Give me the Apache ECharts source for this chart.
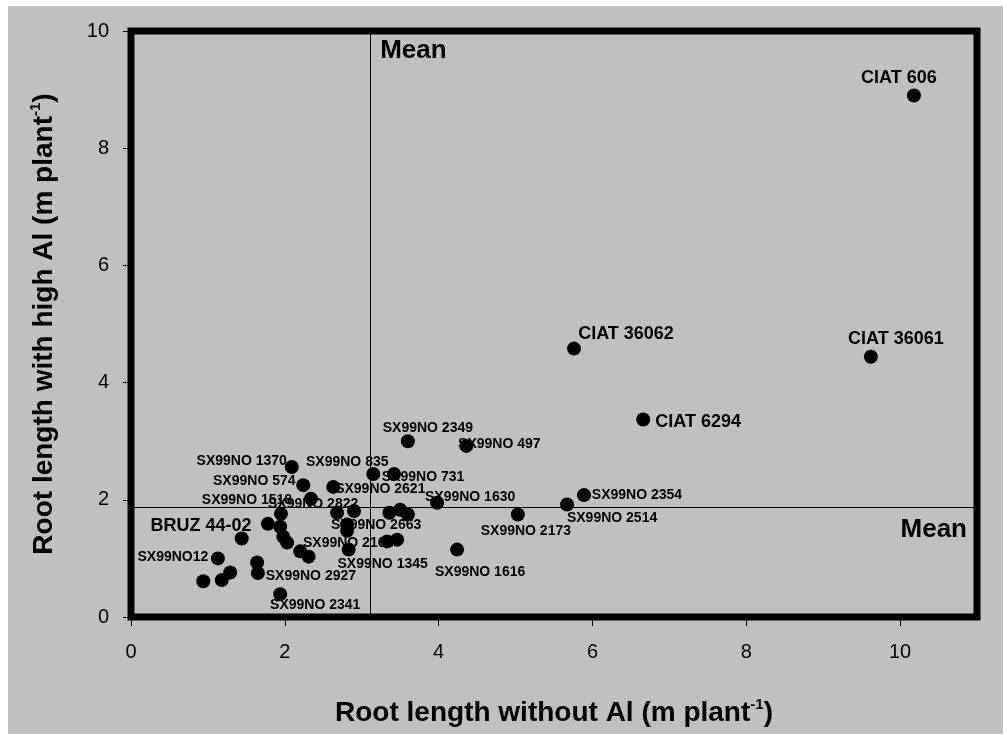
<!DOCTYPE html>
<html><head><meta charset="utf-8">
<script src="https://cdn.jsdelivr.net/npm/echarts@6/dist/echarts.min.js"></script>
<style>html,body{margin:0;padding:0;background:#fff}#c{width:1003px;height:734px}</style>
</head><body><div id="c"></div>
<script>
// ---- data ----
const genotypes = [
  'CIAT 606','CIAT 36062','CIAT 36061','CIAT 6294','SX99NO 2349','SX99NO 497','SX99NO 2354','SX99NO 2514',
  'SX99NO 2173','SX99NO 1630','SX99NO 1616','SX99NO 731','SX99NO 835','SX99NO 2621','SX99NO 1370','SX99NO 574',
  'SX99NO 1518','SX99NO 2822','','SX99NO 2663','','','','',
  'SX99NO 2162','','SX99NO 1345','','','SX99NO 2341','','BRUZ 44-02',
  '','','','SX99NO12','','','','',
  'SX99NO 2927',''
];
const rootWithoutAl = [
  10.18,5.76,9.62,6.66,3.60,4.36,5.89,5.67,
  5.03,3.98,4.24,3.42,3.15,2.63,2.09,2.24,
  2.34,2.68,2.90,2.81,2.81,3.36,3.50,3.60,
  3.33,3.46,2.83,2.20,2.31,1.94,1.95,1.78,
  1.94,1.98,1.44,1.13,1.29,1.18,0.94,1.64,
  1.65,2.03
];
const rootHighAl = [
  8.90,4.58,4.44,3.37,3.00,2.92,2.08,1.92,
  1.75,1.95,1.15,2.44,2.44,2.22,2.56,2.25,
  2.02,1.78,1.81,1.58,1.47,1.78,1.83,1.75,
  1.29,1.32,1.15,1.12,1.03,0.39,1.76,1.59,
  1.54,1.37,1.34,1.00,0.76,0.63,0.61,0.93,
  0.75,1.27
];
const meanWithoutAl = 3.11;
const meanHighAl = 1.88;
const xTickValues = [0,2,4,6,8,10];
const yTickValues = [0,2,4,6,8,10];
const xTitle = 'Root length without Al (m plant{sup|-1})';
const yTitle = 'Root length with high Al (m plant{sup|-1})';
const meanText = 'Mean';

// ---- label layout (pixel offsets of label centre from point) ----
const labelLayout = {
  'CIAT 606':[-15,-17,18], 'CIAT 36062':[52,-15,18], 'CIAT 36061':[25,-18,18], 'CIAT 6294':[55,3,18],
  'SX99NO 2349':[20,-13], 'SX99NO 497':[33,-2], 'SX99NO 2354':[53,0], 'SX99NO 2514':[45,14],
  'SX99NO 2173':[8,17], 'SX99NO 1630':[33,-6], 'SX99NO 1616':[23,23], 'SX99NO 731':[29,3],
  'SX99NO 835':[-26,-12], 'SX99NO 2621':[47,2], 'SX99NO 1370':[-50,-6], 'SX99NO 574':[-49,-4],
  'SX99NO 1518':[-64,2], 'SX99NO 2822':[-24,-9], 'SX99NO 2663':[29,1], 'SX99NO 2162':[-39,2],
  'SX99NO 1345':[34,15], 'SX99NO 2341':[35,11], 'BRUZ 44-02':[-67,2,18], 'SX99NO12':[-45,-1],
  'SX99NO 2927':[53,3]
};

const FONT = "'Liberation Sans', Arial, sans-serif";
const chart = echarts.init(document.getElementById('c'), null, {renderer:'canvas'});

const points = rootWithoutAl.map((x,i)=>[x, rootHighAl[i]]);
const labelData = [];
genotypes.forEach((n,i)=>{
  if(!n) return;
  const L = labelLayout[n];
  labelData.push({value:[rootWithoutAl[i], rootHighAl[i]], name:n,
    label:{offset:[L[0],L[1]], fontSize:L[2]||14}});
});

const nameStyle = (size)=>({fontSize:size, fontWeight:'bold', fontFamily:FONT, color:'#000', lineHeight:size+4,
  rich:{sup:{fontSize:15, fontWeight:'bold', fontFamily:FONT, color:'#000', verticalAlign:'top', lineHeight:15}}});

const axisCommon = {
  type:'value',
  axisLine:{show:false},
  splitLine:{show:false},
  axisLabel:{fontSize:20, color:'#000', fontFamily:FONT},
};

chart.setOption({
  backgroundColor:'#c0c0c0',
  animation:false,
  grid:{left:131, right:26, top:31, bottom:113, show:true, borderColor:'#000', borderWidth:7, backgroundColor:'transparent'},
  xAxis:Object.assign({}, axisCommon, {
    min:0, max:11,
    axisTick:{show:true, length:9, lineStyle:{color:'#000'}, customValues:xTickValues},
    axisLabel:Object.assign({}, axisCommon.axisLabel, {customValues:xTickValues, margin:25}),
    name:xTitle, nameLocation:'middle', nameGap:80, nameTextStyle:nameStyle(28)
  }),
  yAxis:Object.assign({}, axisCommon, {
    min:0, max:10,
    axisTick:{show:true, length:8, lineStyle:{color:'#000'}, customValues:yTickValues},
    axisLabel:Object.assign({}, axisCommon.axisLabel, {customValues:yTickValues, margin:22}),
    name:yTitle, nameLocation:'middle', nameGap:71, nameTextStyle:nameStyle(28)
  }),
  series:[
    {type:'scatter', z:2, silent:true, symbolSize:1, itemStyle:{color:'rgba(0,0,0,0)', opacity:1}, data:labelData,
     label:{show:true, position:'inside', formatter:'{b}', color:'#000', opacity:1, fontWeight:'bold', fontFamily:FONT, align:'center', verticalAlign:'middle'}},
    {type:'scatter', z:3, symbolSize:14, itemStyle:{color:'#000', opacity:1}, data:points,
     markLine:{silent:true, symbol:'none', label:{show:false}, lineStyle:{color:'#000', width:1, type:'solid', opacity:1},
       data:[{xAxis:meanWithoutAl},{yAxis:meanHighAl}]}}
  ]
});

const pTop = chart.convertToPixel({gridIndex:0}, [meanWithoutAl, 10]);
const pRight = chart.convertToPixel({gridIndex:0}, [11, meanHighAl]);
chart.setOption({graphic:[
  {type:'rect', silent:true, x:0, y:0, shape:{width:1003, height:6}, style:{fill:'#fff'}},
  {type:'rect', silent:true, x:0, y:0, shape:{width:8, height:734}, style:{fill:'#fff'}},
  {type:'text', silent:true, x:pTop[0]+10, y:pTop[1]+20, style:{text:meanText, fontSize:26, fontWeight:'bold', fontFamily:FONT, fill:'#000', align:'left', verticalAlign:'middle'}},
  {type:'text', silent:true, x:pRight[0]-10, y:pRight[1]+23, style:{text:meanText, fontSize:26, fontWeight:'bold', fontFamily:FONT, fill:'#000', align:'right', verticalAlign:'middle'}}
]});
</script>
</body></html>
